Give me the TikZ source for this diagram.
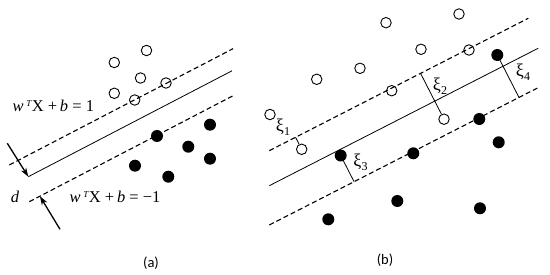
\documentclass[tikz,border=0pt]{standalone}
\usepackage{fontspec}
\setmainfont{Liberation Serif}
\newfontfamily\capfont{Carlito}
\usetikzlibrary{arrows.meta,calc}
\newcommand{\xisub}[1]{ξ\raisebox{-4pt}{\fontsize{12}{12}\selectfont #1}}
\newcommand{\wlabel}[1]{\textit{w}\,\raisebox{5.5pt}{\fontsize{9}{9}\selectfont\textit{T}}X~+\,\textit{b}~=~#1}
\begin{document}
\begin{tikzpicture}[x=1pt,y=-1pt,
  dline/.style={line width=1.1pt, dash pattern=on 5pt off 3pt},
  sline/.style={line width=0.8pt},
  ocirc/.style={circle,draw,line width=0.9pt,minimum size=10.5pt,inner sep=0pt},
  fcirc/.style={circle,fill=black,minimum size=12pt,inner sep=0pt},
  lbl/.style={inner sep=0pt,font=\fontsize{16.5}{16.5}\selectfont},
  xlbl/.style={inner sep=0pt,font=\fontsize{18}{18}\selectfont},
  captext/.style={inner sep=0pt,font=\capfont\fontsize{14.5}{15}\selectfont},
  arr/.style={line width=1.3pt,-{Stealth[length=9pt,width=6pt]}},
  slack/.style={line width=0.8pt}
]
\useasboundingbox (0,0) rectangle (550,275);
% ---------- panel (a) ----------
\coordinate (ua1) at (9.3,165);   \coordinate (ua2) at (233,48.7);
\coordinate (sa1) at (28.3,176.7); \coordinate (sa2) at (232,70.8);
\coordinate (la1) at (29.3,201.7); \coordinate (la2) at (233.3,95.6);
\draw[dline] (ua1) -- (ua2);
\draw[sline] (sa1) -- (sa2);
\draw[dline] (la1) -- (la2);
\foreach \n/\x/\y in {a1/114.3/62.5, a2/146.5/50.5, a3/140.5/78, a4/166/83, a5/114.3/93.3, a6/134.7/100}
  \node[ocirc] (\n) at (\x,\y) {};
\foreach \n/\x/\y in {b1/157/136, b2/210/124.7, b3/188.3/146.7, b4/210/158.7, b5/135/165.7, b6/168.3/176.7}
  \node[fcirc] (\n) at (\x,\y) {};
\coordinate (t1) at (7.3,143.3);
\coordinate (t2) at (60,229.3);
\draw[arr] (t1) -- (sa1);
\draw[arr] (t2) -- ($(la1)!0.052!(la2)$);
\node[lbl] (wl1) at (53.3,106) {\wlabel{1}};
\node[lbl] (wl2) at (115,197) {\wlabel{−1}};
\node[lbl] (dl) at (15,197) {\textit{d}};
% ---------- panel (b) ----------
\coordinate (ub1) at (269.3,150.7); \coordinate (ub2) at (528.3,18.3);
\coordinate (sb1) at (269.3,185.7); \coordinate (sb2) at (538.3,48.2);
\coordinate (lb1) at (269.3,225);   \coordinate (lb2) at (537.3,88.1);
\draw[dline] (ub1) -- (ub2);
\draw[sline] (sb1) -- (sb2);
\draw[dline] (lb1) -- (lb2);
\foreach \n/\x/\y in {o1/386/22.7, o2/459/14, o3/421/49.3, o4/469/50, o5/360/68.3, o6/316.7/79.3, o7/391.7/90.7, o8/270/114.5, o9/301.7/149.3, o10/444/119.2}
  \node[ocirc] (\n) at (\x,\y) {};
\foreach \n/\x/\y in {f1/497.3/55, f2/340.7/155.5, f3/479.3/119, f4/413.3/153.3, f5/498.7/142.3, f6/397.3/201, f7/480/208.3, f8/328.3/219.3}
  \node[fcirc] (\n) at (\x,\y) {};
\draw[slack] ($(ub1)!(o9)!(ub2)$) -- (o9);
\draw[slack] ($(ub1)!(o10)!(ub2)$) -- (o10);
\draw[slack] (f2.center) -- ($(lb1)!(f2)!(lb2)$);
\draw[slack] (f1.center) -- ($(lb1)!(f1)!(lb2)$);
\node[xlbl] (x1) at (283,127.5) {\xisub{1}};
\node[xlbl] (x2) at (440,86) {\xisub{2}};
\node[xlbl] (x3) at (360.5,162.5) {\xisub{3}};
\node[xlbl] (x4) at (523,72.5) {\xisub{4}};
% ---------- captions ----------
\node[captext] (ca) at (151,263) {(a)};
\node[captext] (cb) at (385,260) {(b)};
\end{tikzpicture}
\end{document}
